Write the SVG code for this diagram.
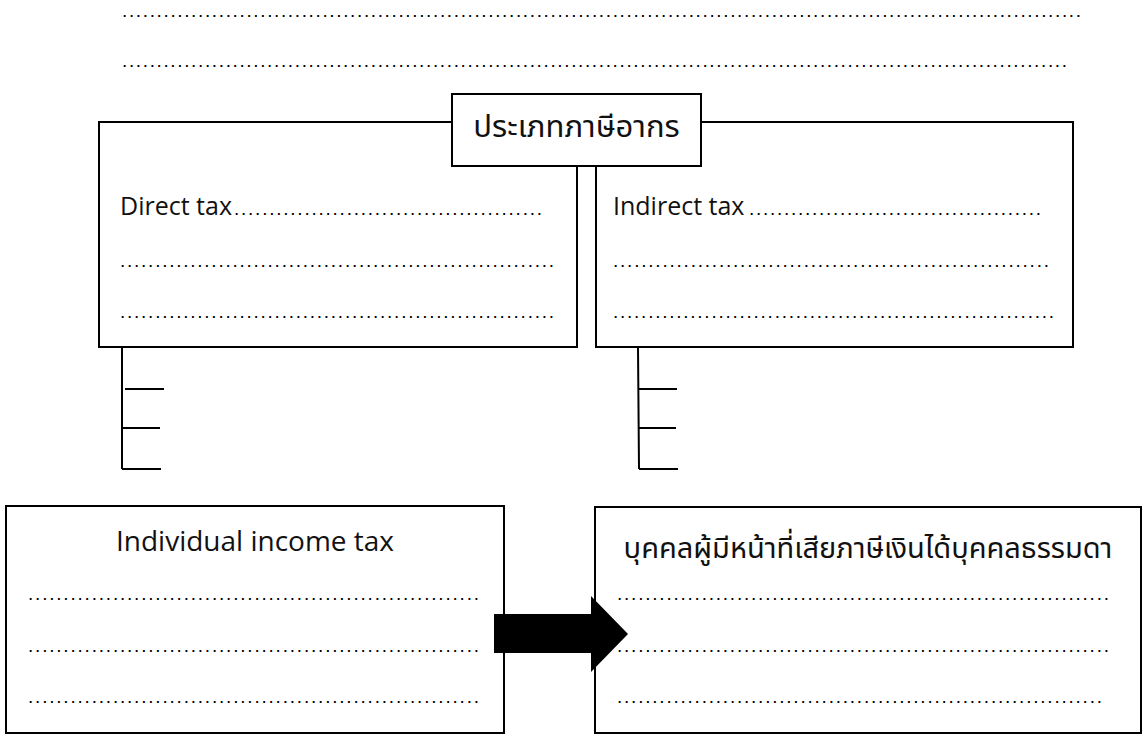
<svg xmlns="http://www.w3.org/2000/svg" width="1146" height="740" viewBox="0 0 1146 740">
<style>
.box{fill:#fff;stroke:#000;stroke-width:2}
.ln{stroke:#000;stroke-width:2;fill:none}
.lbl{font-family:"Open Sans","Noto Sans",sans-serif;font-size:25px;fill:#111}
.big{font-size:28px}
.th{font-family:"Noto Sans Thai","Noto Sans Thai UI","Noto Sans","Open Sans",sans-serif;font-size:29px;fill:#111}
.dots{font-family:"Liberation Sans",Arial,sans-serif;font-size:19px;fill:#000}
</style>
<rect width="1146" height="740" fill="#fff"/>
<g id="top-lines">
<text class="dots" x="122" y="16.5" textLength="959" lengthAdjust="spacing">...........................................................................................................................................</text>
<text class="dots" x="122" y="67" textLength="945" lengthAdjust="spacing">.........................................................................................................................................</text>
</g>
<g id="direct-tax">
<rect class="box" x="99" y="122" width="478" height="225"/>
<text class="lbl" x="120" y="215">Direct tax</text>
<text class="dots" x="234" y="215" textLength="308" lengthAdjust="spacing">............................................</text>
<text class="dots" x="120" y="266.5" textLength="434" lengthAdjust="spacing">..............................................................</text>
<text class="dots" x="120" y="318" textLength="434" lengthAdjust="spacing">..............................................................</text>
</g>
<g id="indirect-tax">
<rect class="box" x="596" y="122" width="477" height="225"/>
<text class="lbl" x="613" y="215">Indirect tax</text>
<text class="dots" x="749" y="215" textLength="292" lengthAdjust="spacing">..........................................</text>
<text class="dots" x="613" y="266.5" textLength="436" lengthAdjust="spacing">..............................................................</text>
<text class="dots" x="613" y="318" textLength="441" lengthAdjust="spacing">...............................................................</text>
</g>
<g id="tax-types">
<rect class="box" x="452" y="94" width="249" height="72"/>
<text class="th" x="576.5" y="137" text-anchor="middle" style="font-size:31px">ประเภทภาษีอากร</text>
</g>
<g id="individual-income-tax">
<rect class="box" x="6" y="506" width="498" height="227"/>
<text class="lbl big" x="255" y="551" text-anchor="middle">Individual income tax</text>
<text class="dots" x="28" y="599.5" textLength="451" lengthAdjust="spacing">................................................................</text>
<text class="dots" x="28" y="651.5" textLength="451" lengthAdjust="spacing">................................................................</text>
<text class="dots" x="28" y="702.5" textLength="451" lengthAdjust="spacing">................................................................</text>
</g>
<g id="taxpayer">
<rect class="box" x="595" y="507" width="546" height="226"/>
<text class="th" x="868" y="558" text-anchor="middle">บุคคลผู้มีหน้าที่เสียภาษีเงินได้บุคคลธรรมดา</text>
<text class="dots" x="617" y="599.5" textLength="492" lengthAdjust="spacing">......................................................................</text>
<text class="dots" x="617" y="651.5" textLength="492" lengthAdjust="spacing">......................................................................</text>
<text class="dots" x="617" y="702.5" textLength="485" lengthAdjust="spacing">.....................................................................</text>
</g>
<g id="connectors">
<path class="ln" d="M122 347V469M125 389H164M122 428H160M122 469H161"/>
<path class="ln" d="M638 347L639 469M638 389H677M638 428H676M639 469H678"/>
<polygon points="494,614 591,614 591,596 628,634 591,672 591,653 494,653" fill="#000"/>
</g>
</svg>
